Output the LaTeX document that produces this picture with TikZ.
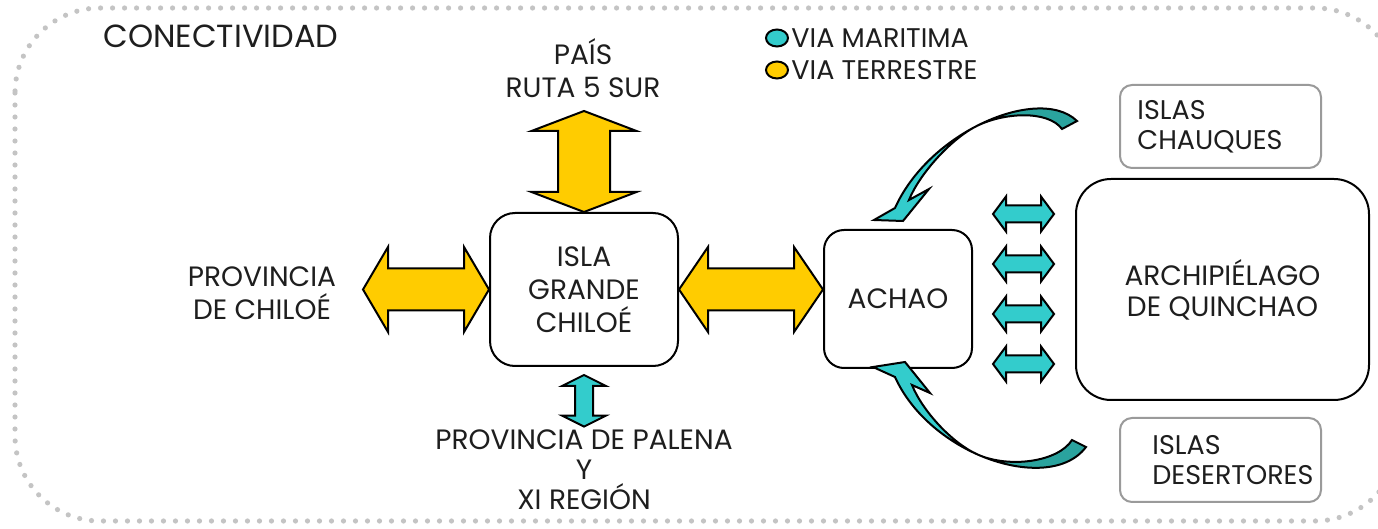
\documentclass[tikz,border=0pt]{standalone}
\usepackage{fontspec}
\setmainfont{Poppins}
\usetikzlibrary{calc}

\definecolor{cyanarrow}{HTML}{33CCCC}
\definecolor{tealdark}{HTML}{2AA39E}
\definecolor{yellowarrow}{HTML}{FFCC00}
\definecolor{dotgray}{HTML}{C4C4C4}
\definecolor{boxgray}{HTML}{9A9A9A}
\definecolor{txtgray}{HTML}{1E1E1E}

\newcommand{\txt}{\fontsize{14}{16.5}\selectfont}

% #1 style, #2 start, #3 end, #4 head length, #5 head half width, #6 shaft half width
\newcommand{\blockarrow}[6]{%
	\draw[#1] (#2)
		-- ($(#2)!#4!(#3)!#5!90:(#3)$)
		-- ($(#2)!#4!(#3)!#6!90:(#3)$)
		-- ($(#3)!#4!(#2)!#6!-90:(#2)$)
		-- ($(#3)!#4!(#2)!#5!-90:(#2)$)
		-- (#3)
		-- ($(#3)!#4!(#2)!#5!90:(#2)$)
		-- ($(#3)!#4!(#2)!#6!90:(#2)$)
		-- ($(#2)!#4!(#3)!#6!-90:(#3)$)
		-- ($(#2)!#4!(#3)!#5!-90:(#3)$)
		-- cycle;}

\tikzset{
	roundbox/.style={draw, line width=1pt, rounded corners=12.5pt, align=center, font=\txt, text=txtgray},
	graybox/.style={draw=boxgray, line width=1pt, rounded corners=6pt},
	lbl/.style={inner sep=0pt, align=center, font=\txt, text=txtgray},
	yarrow/.style={fill=yellowarrow, draw=black, line width=1pt, line join=miter},
	carrow/.style={fill=cyanarrow, draw=black, line width=1pt, line join=miter},
}

\begin{document}
\begin{tikzpicture}[x=0.5pt, y=-0.5pt]
	\useasboundingbox (0,0) rectangle (1378,529);
	\draw[dotgray, line width=2.6pt, line cap=round, dash pattern=on 0pt off 6pt, rounded corners=42.5pt] (15,8) rectangle (1400,521);

	\node[lbl, anchor=west, font=\fontsize{16}{18}\selectfont] (titulo) at (103,36) {CONECTIVIDAD};

	% leyenda
	\filldraw[fill=cyanarrow, line width=1pt]   (777,38) ellipse (5.5pt and 4.25pt);
	\filldraw[fill=yellowarrow, line width=1pt] (777,70) ellipse (5.5pt and 4.25pt);
	\node[lbl, anchor=west, font=\fontsize{13.5}{16}\selectfont] (maritima)  at (791,38) {VIA MARITIMA};
	\node[lbl, anchor=west, font=\fontsize{13.5}{16}\selectfont] (terrestre) at (791,70) {VIA TERRESTRE};

	\node[roundbox, minimum width=94pt, minimum height=76.5pt] (isla) at (584,289.5) {ISLA\\GRANDE\\CHILOÉ};
	\node[roundbox, minimum width=74pt, minimum height=69pt, rounded corners=10pt] (achao) at (898,299) {ACHAO};
	\node[roundbox, minimum width=146.5pt, minimum height=110.5pt, rounded corners=17.5pt, font=\fontsize{14}{15.5}\selectfont] (arch) at (1222.5,289.5) {ARCHIPIÉLAGO\\DE QUINCHAO};

	\node[graybox, minimum width=100.5pt, minimum height=41.5pt] (chauques)   at (1220.5,126.5) {};
	\node[graybox, minimum width=100.5pt, minimum height=42pt]   (desertores) at (1220.5,460) {};
	\node[lbl, anchor=west, align=left, font=\fontsize{13.5}{15}\selectfont] (chauquesTxt)   at ($(chauques.west)+(18,0)$)   {ISLAS\\CHAUQUES};
	\node[lbl, anchor=west, align=left, font=\fontsize{13.5}{15}\selectfont] (desertoresTxt) at ($(desertores.west)+(33,0)$) {ISLAS\\DESERTORES};

	\node[lbl] (pais)   at (583,68)  {PAÍS\\RUTA 5 SUR};
	\node[lbl] (chiloe) at (262,293) {PROVINCIA\\DE CHILOÉ};
	\node[lbl, font=\fontsize{14}{15}\selectfont] (palena) at (584,470) {PROVINCIA DE PALENA\\Y\\XI REGIÓN};

	\coordinate (chiloeTip) at ($(isla.west)+(-126,0)$);
	\coordinate (paisTip)   at ($(isla.north)+(0,-101)$);
	\coordinate (achaoIn)   at (isla.east -| achao.west);
	\coordinate (islaOut)   at ($(isla.south)+(0,8)$);
	\coordinate (palenaIn)  at ($(palena.north)+(0,-3)$);

	\blockarrow{yarrow}{chiloeTip}{isla.west}{12.5pt}{21.25pt}{10.5pt}
	\blockarrow{yarrow}{isla.east}{achaoIn}{14.5pt}{21.25pt}{10.5pt}
	\blockarrow{yarrow}{paisTip}{isla.north}{10pt}{26.25pt}{13pt}
	\blockarrow{carrow}{islaOut}{palenaIn}{5.5pt}{11pt}{4.5pt}

	\foreach \i/\y in {1/214,2/264,3/314,4/364}{
		\coordinate (s\i) at ($(achao.east |- 0,\y)+(20,0)$);
		\coordinate (e\i) at ($(arch.west |- 0,\y)+(-21,0)$);
		\blockarrow{carrow}{s\i}{e\i}{6.5pt}{8.75pt}{4.25pt}
	}

	% flechas curvas
	\fill[cyanarrow] (1077,121) .. controls (1056.6,101.2) and (1014.2,106) .. (974.4,127.2) .. controls (941.8,144.5) and (910.8,172.9) .. (895,208) -- (874,220) -- (903,221) -- (929,189) -- (909,200) .. controls (919,175) and (949,141) .. (974.4,127.2) .. controls (1003,112) and (1048,110) .. (1062,129) -- cycle;
	\fill[tealdark] (1077,121) .. controls (1056.6,101.2) and (1014.2,106) .. (974.4,127.2) .. controls (1003,112) and (1048,110) .. (1062,129) -- cycle;
	\draw[line width=1pt, line join=miter] (1077,121) .. controls (1056.6,101.2) and (1014.2,106) .. (974.4,127.2) .. controls (941.8,144.5) and (910.8,172.9) .. (895,208) -- (874,220) -- (903,221) -- (929,189) -- (909,200) .. controls (919,175) and (949,141) .. (974.4,127.2) .. controls (1003,112) and (1048,110) .. (1062,129) -- cycle;

	\fill[cyanarrow] (1086,447) .. controls (1066.2,473.4) and (1021,473.2) .. (978.5,454.9) .. controls (943.7,439.7) and (910.8,412.1) .. (895,377) -- (873,367) -- (905,362) -- (930,393) -- (912,385) .. controls (922,410) and (951.5,443.2) .. (978.5,454.9) .. controls (1009.5,468.3) and (1058,462) .. (1072,440) -- cycle;
	\fill[tealdark] (1086,447) .. controls (1066.2,473.4) and (1021,473.2) .. (978.5,454.9) .. controls (1009.5,468.3) and (1058,462) .. (1072,440) -- cycle;
	\draw[line width=1pt, line join=miter] (1086,447) .. controls (1066.2,473.4) and (1021,473.2) .. (978.5,454.9) .. controls (943.7,439.7) and (910.8,412.1) .. (895,377) -- (873,367) -- (905,362) -- (930,393) -- (912,385) .. controls (922,410) and (951.5,443.2) .. (978.5,454.9) .. controls (1009.5,468.3) and (1058,462) .. (1072,440) -- cycle;
\end{tikzpicture}
\end{document}
